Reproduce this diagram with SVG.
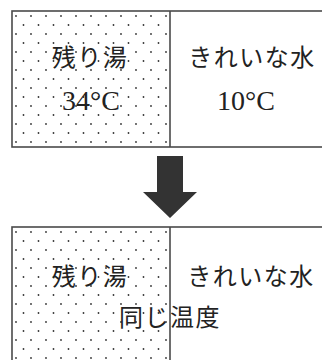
<svg xmlns="http://www.w3.org/2000/svg" width="322" height="360" viewBox="0 0 322 360">
<style>
.box{fill:none;stroke:#4a4a4a;stroke-width:1.6}
.jp{font-family:"Noto Sans CJK JP","Noto Sans CJK SC",sans-serif;font-size:24px;fill:#222;text-anchor:middle;letter-spacing:1.5px}
.num{font-family:"Liberation Serif","Times New Roman",serif;font-size:28px;fill:#222;text-anchor:middle}
</style>
<defs>
<pattern id="dots" x="12" y="12" width="15" height="18" patternUnits="userSpaceOnUse">
<circle cx="4" cy="4" r="0.9" fill="#333"/>
<circle cx="11.5" cy="13" r="0.9" fill="#333"/>
</pattern>
</defs>
<rect width="322" height="360" fill="#fff"/>
<g id="before">
<rect x="12" y="11" width="158" height="136" fill="url(#dots)"/>
<rect class="box" x="12" y="11" width="330" height="136"/>
<line class="box" x1="170" y1="11" x2="170" y2="147"/>
<text class="jp" x="90" y="66">残り湯</text>
<text class="num" x="91" y="110">34°C</text>
<text class="jp" x="252" y="66">きれいな水</text>
<text class="num" x="246" y="110">10°C</text>
</g>
<g id="connectors">
<path d="M157,156 H183 V192 H197 L170,218 L143,192 H157 Z" fill="#333"/>
</g>
<g id="after">
<rect x="12" y="227" width="158" height="140" fill="url(#dots)"/>
<rect class="box" x="12" y="227" width="330" height="150"/>
<line class="box" x1="170" y1="227" x2="170" y2="360"/>
<text class="jp" x="90" y="285">残り湯</text>
<text class="jp" x="251" y="285">きれいな水</text>
<text class="jp" x="170" y="326">同じ温度</text>
</g>
</svg>
